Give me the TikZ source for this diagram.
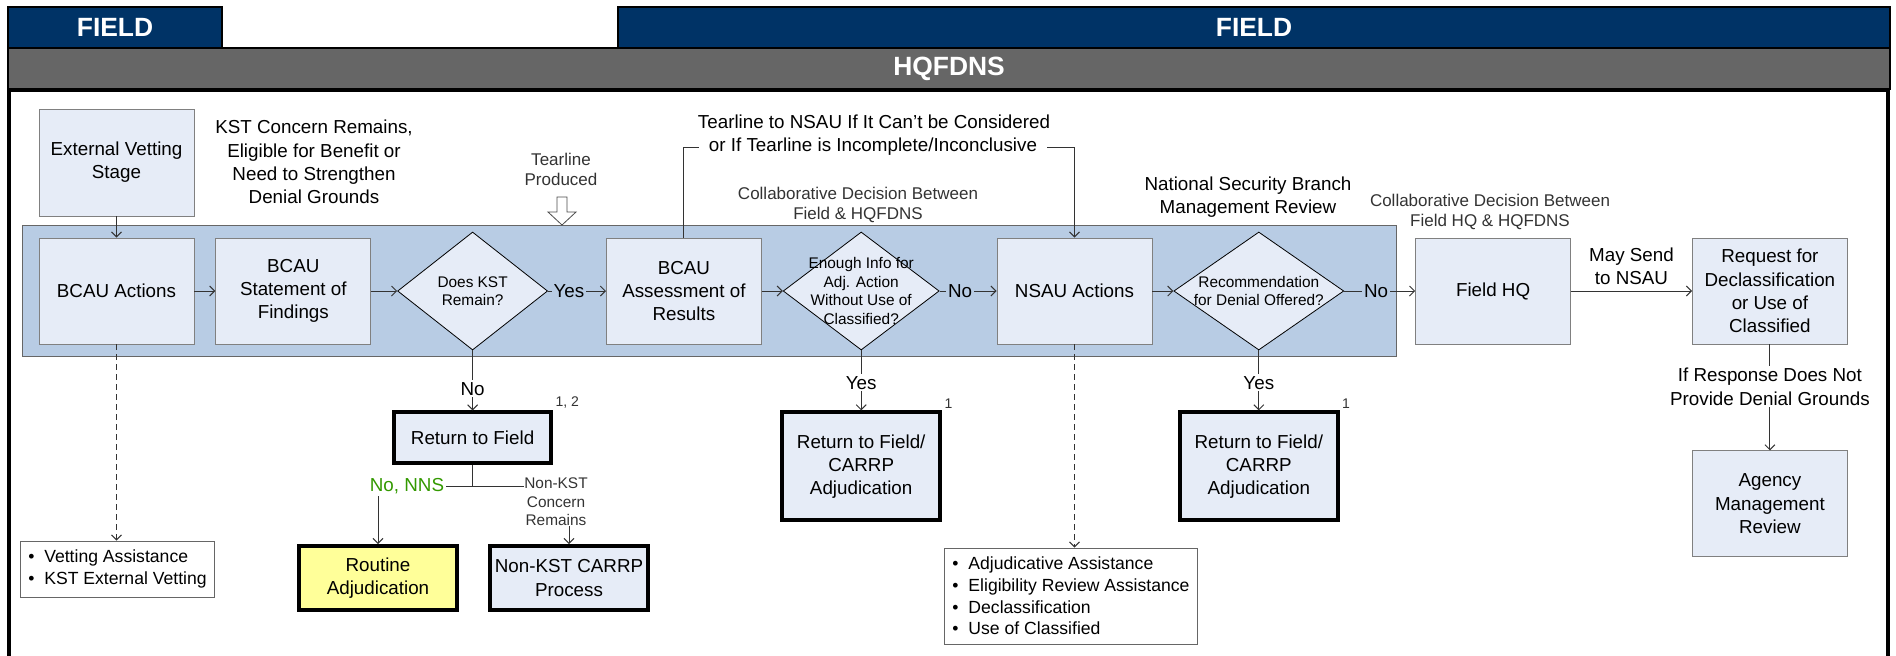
\documentclass[tikz,border=0pt]{standalone}
\usepackage{fontspec}
\setmainfont{Liberation Sans}
\usepackage{tikz}
\usetikzlibrary{positioning}
\usetikzlibrary{shapes.geometric}
\usetikzlibrary{arrows.meta}

\definecolor{hdrblue}{RGB}{0,51,102}
\definecolor{hdrgray}{RGB}{102,102,102}
\definecolor{bandblue}{RGB}{184,204,228}
\definecolor{boxblue}{RGB}{230,236,247}
\definecolor{routineyellow}{RGB}{255,255,153}
\definecolor{nnsgreen}{RGB}{51,153,0}

\newcommand{\hdrfont}{\fontsize{13.2}{15}\selectfont\bfseries}
\newcommand{\bodyfont}{\fontsize{9.4}{11.6}\selectfont}
\newcommand{\notefont}{\fontsize{8.5}{10}\selectfont}
\newcommand{\diafont}{\fontsize{7.7}{9.3}\selectfont}
\newcommand{\listfont}{\fontsize{8.8}{10.8}\selectfont}
\newcommand{\fnfont}{\fontsize{7}{8}\selectfont}
\newcommand{\itm}{\makebox[8pt][l]{\textbullet}}

\begin{document}
\begin{tikzpicture}[x=0.5pt, y=-0.5pt,
	>={Straight Barb[length=2.5pt,width=5pt]},
	header/.style={draw=black, line width=0.8pt, text=white, font=\hdrfont, inner sep=0pt, minimum height=20.5pt},
	box/.style={draw=black!50, fill=boxblue, align=center, font=\bodyfont,
		minimum width=77.5pt, minimum height=53pt, inner sep=1pt},
	return box/.style={box, draw=black, line width=2pt},
	decision/.style={diamond, draw=black, fill=boxblue, inner sep=0pt, minimum height=59pt},
	dia text/.style={align=center, font=\diafont, inner sep=0pt},
	list box/.style={draw=black!60, fill=white, align=left, font=\listfont, inner xsep=4pt},
	note/.style={align=center, font=\bodyfont, inner sep=1pt},
	small note/.style={align=center, font=\notefont, text=black!80, inner sep=1pt},
	footnote/.style={font=\fnfont, text=black!80, inner sep=1pt},
	flow/.style={->, draw=black!80, line width=0.5pt},
	link/.style={draw=black!80, line width=0.5pt}]
	
	\useasboundingbox (0,0) rectangle (1896,655);
	
	\node[header, fill=hdrblue, minimum width=107pt] (fieldL) at (115,27.5) {FIELD};
	\node[header, fill=hdrblue, minimum width=636pt] (fieldR) at (1254,27.5) {FIELD};
	\node[header, fill=hdrgray, minimum width=941pt] (hq) at (949,68.5) {HQFDNS};
	\draw[line width=2pt] (9,90) rectangle (1888,720);
	\draw[draw=black!60, fill=bandblue] (22,225) rectangle (1396,356);
	
	\node[box, minimum height=53.5pt] (ext) at (116.5,162.5) {External Vetting\\Stage};
	\node[box] (bcau) at (116.5,291) {BCAU Actions};
	\node[box, right=10.5pt of bcau] (stmt) {BCAU\\Statement of\\Findings};
	\node[decision, minimum width=75pt, right=13pt of stmt,
		label={[dia text]center:Does KST\\Remain?}] (kst) {};
	\node[box, right=29pt of kst] (assess) {BCAU\\Assessment of\\Results};
	\node[decision, minimum width=78pt, right=10.5pt of assess,
		label={[dia text]center:Enough Info for\\Adj. Action\\Without Use of\\Classified?}] (info) {};
	\node[box, right=28.5pt of info] (nsau) {NSAU Actions};
	\node[decision, minimum width=85pt, right=10.5pt of nsau,
		label={[dia text]center:Recommendation\\for Denial Offered?}] (denial) {};
	\node[box, right=35.5pt of denial] (fhq) {Field HQ};
	\node[box, right=60.5pt of fhq] (req) {Request for\\Declassification\\or Use of\\Classified};
	\node[box, below=53pt of req] (agency) {Agency\\Management\\Review};
	
	\node[return box, minimum width=78.5pt, minimum height=25.5pt, below=30pt of kst,
		label={[footnote]north east:1, 2}] (ret1) {Return to Field};
	\node[return box, minimum width=79pt, minimum height=54pt, below=30pt of info,
		label={[footnote]north east:1}] (ret2) {Return to Field/\\CARRP\\Adjudication};
	\node[return box, minimum width=79pt, minimum height=54pt, below=30pt of denial,
		label={[footnote]north east:1}] (ret3) {Return to Field/\\CARRP\\Adjudication};
	\node[return box, fill=routineyellow, minimum width=79pt, minimum height=32pt] (routine) at (378,578) {Routine\\Adjudication};
	\node[return box, minimum width=79pt, minimum height=32pt] (nonkst) at (569,578) {Non-KST CARRP\\Process};
	
	\node[list box, minimum height=28pt] (vetlist) at (117.5,569) {\itm Vetting Assistance\\\itm KST External Vetting};
	\node[list box, minimum height=48pt] (nsaulist) at (1071,596) {\itm Adjudicative Assistance\\\itm Eligibility Review Assistance\\\itm Declassification\\\itm Use of Classified};
	
	\node[note] (kstnote) at (314,162) {KST Concern Remains,\\Eligible for Benefit or\\Need to Strengthen\\Denial Grounds};
	\node[small note] (tear) at (561,169) {Tearline\\Produced};
	\node[note] (tl1) at (874,122) {Tearline to NSAU If It Can’t be Considered};
	\node[note, inner xsep=5pt] (tl2) at (873,147) {or If Tearline is Incomplete/Inconclusive};
	\node[small note] (collab1) at (858,205) {Collaborative Decision Between\\Field \& HQFDNS};
	\node[note] (nsb) at (1248,197.5) {National Security Branch\\Management Review};
	\node[small note] (collab2) at (1490,212) {Collaborative Decision Between\\Field HQ \& HQFDNS};
	\node[note, text=nnsgreen] (nns) at (407,486) {No, NNS};
	\node[dia text, text=black!80] (nklbl) at (556,502) {Non-KST\\Concern\\Remains};
	
	\coordinate (tip) at (562,225);
	\draw[black!70, fill=white] (tip) -- ++(14,-13) -- ++(-9,0) -- ++(0,-15) -- ++(-10,0) -- ++(0,15) -- ++(-9,0) -- cycle;
	
	\draw[flow] (ext) -- (bcau);
	\draw[flow] (bcau) -- (stmt);
	\draw[flow] (stmt) -- (kst);
	\draw[flow] (kst) -- node[note, fill=bandblue, pos=0.36] {Yes} (assess);
	\draw[flow] (assess) -- (info);
	\draw[flow] (info) -- node[note, fill=bandblue, pos=0.36] {No} (nsau);
	\draw[flow] (nsau) -- (denial);
	\draw[flow] (denial) -- node[note, fill=bandblue, pos=0.45] {No} (fhq);
	\draw[flow] (fhq) -- node[note, above=2pt] {May Send\\to NSAU} (req);
	\draw[flow] (req) -- node[note, fill=white, pos=0.4] {If Response Does Not\\Provide Denial Grounds} (agency);
	
	\draw[flow] (kst.south) -- node[note, fill=white, pos=0.64] {No} (kst.south |- ret1.north);
	\draw[flow] (info.south) -- node[note, fill=white, pos=0.54] {Yes} (info.south |- ret2.north);
	\draw[flow] (denial.south) -- node[note, fill=white, pos=0.54] {Yes} (denial.south |- ret3.north);
	
	\draw[flow, densely dashed] (bcau.south) -- (bcau.south |- vetlist.north);
	\draw[flow, densely dashed] (nsau.south) -- (nsau.south |- nsaulist.north);
	
	\draw[link] (assess.north) |- (tl2.west);
	\draw[flow] (tl2.east) -| (nsau.north);
	
	\coordinate (split) at (ret1.south |- nns.east);
	\draw[link] (ret1.south) -- (split) -- (nns.east);
	\draw[link] (split) -- (nklbl.west |- split);
	\draw[flow] (routine.north |- nns.south) -- (routine.north);
	\draw[flow] (nonkst.north |- nklbl.south) -- (nonkst.north);
\end{tikzpicture}
\end{document}
